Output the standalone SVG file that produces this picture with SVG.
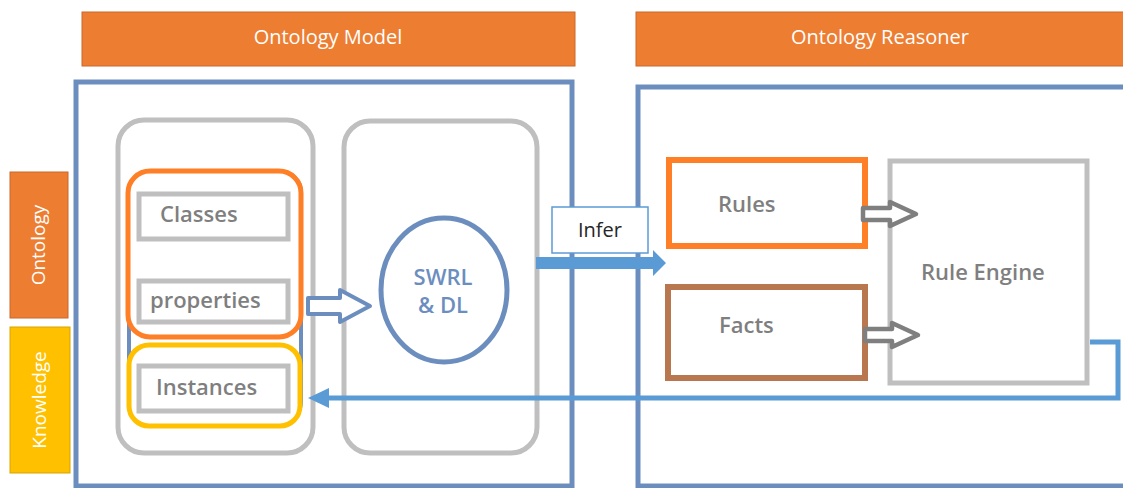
<svg xmlns="http://www.w3.org/2000/svg" width="1123" height="488" viewBox="0 0 1123 488">
<style>
.hdr{fill:#ED7D31;stroke:#C9682A;stroke-width:1}
.htxt{font-family:"Open Sans",sans-serif;font-size:20px;fill:#ffffff;text-anchor:middle}
.frame{fill:#ffffff;stroke:#6C8EBF;stroke-width:5}
.gray{fill:none;stroke:#BFBFBF;stroke-width:5}
.lbl{font-family:"Open Sans",sans-serif;font-weight:600;font-size:22px;fill:#7F7F7F}
.side{font-family:"Open Sans",sans-serif;font-size:19px;fill:#ffffff;text-anchor:middle}
</style>
<g id="header-model"><rect class="hdr" x="82" y="12" width="493" height="54"/><text class="htxt" x="328" y="44">Ontology Model</text></g>
<g id="header-reasoner"><rect class="hdr" x="636" y="12" width="490" height="54"/><text class="htxt" x="880" y="44">Ontology Reasoner</text></g>
<g id="frame-model"><rect class="frame" x="76" y="82" width="496" height="404"/></g>
<g id="frame-reasoner"><rect class="frame" x="638" y="87" width="495" height="399"/></g>
<g id="ontology-tag"><rect x="10" y="172" width="58" height="146" fill="#ED7D31" stroke="#C9682A" stroke-width="1"/><text class="side" transform="translate(45 245) rotate(-90)">Ontology</text></g>
<g id="knowledge-tag"><rect x="10" y="327" width="60" height="146" fill="#FFC000" stroke="#D9A300" stroke-width="1"/><text class="side" transform="translate(46 400) rotate(-90)">Knowledge</text></g>
<g id="ontology-group"><rect class="gray" x="118" y="120" width="195" height="333" rx="26"/></g>
<g id="ontology-inner"><rect x="129" y="172" width="172" height="250" rx="20" fill="none" stroke="#6C8EBF" stroke-width="4"/></g>
<g id="ontology-orange"><rect x="128" y="171" width="173" height="166" rx="22" fill="#ffffff" stroke="#FF7F27" stroke-width="5"/></g>
<g id="knowledge-yellow"><rect x="129" y="345" width="171" height="81" rx="20" fill="#ffffff" stroke="#FFC000" stroke-width="5"/></g>
<g id="classes"><rect class="gray" x="139" y="194" width="149" height="45"/><text class="lbl" x="160" y="222">Classes</text></g>
<g id="properties"><rect class="gray" x="139" y="281" width="149" height="41"/><text class="lbl" x="150" y="308">properties</text></g>
<g id="instances"><rect class="gray" x="139" y="366" width="149" height="45"/><text class="lbl" x="156" y="395">Instances</text></g>
<g id="reasoning-group"><rect class="gray" x="344" y="121" width="193" height="332" rx="26"/></g>
<g id="swrl"><ellipse cx="444" cy="290" rx="63" ry="72" fill="#ffffff" stroke="#6C8EBF" stroke-width="5"/><text font-family="Open Sans,sans-serif" font-weight="600" font-size="22" fill="#6C8EBF" text-anchor="middle"><tspan x="443" y="285">SWRL</tspan><tspan x="443" y="313">&amp; DL</tspan></text></g>
<g id="rules"><rect x="669" y="160" width="196" height="86" fill="#ffffff" stroke="#FF7F27" stroke-width="6"/><text class="lbl" x="718" y="212">Rules</text></g>
<g id="facts"><rect x="668" y="287" width="197" height="91" fill="#ffffff" stroke="#B97750" stroke-width="6"/><text class="lbl" x="719" y="333">Facts</text></g>
<g id="rule-engine"><rect class="gray" x="890" y="161" width="197" height="222" fill="#ffffff"/><text class="lbl" x="921" y="280">Rule Engine</text></g>
<g id="connectors">
<path d="M308 298 H340 V290 L370 306 L340 322 V314 H308 Z" fill="#ffffff" stroke="#6C8EBF" stroke-width="4" stroke-linejoin="round"/>
<path d="M536 257 H653 V250 L666 263 L653 276 V269 H536 Z" fill="#5B9BD5"/>
<path d="M1090 342 H1118 V398 H326" fill="none" stroke="#5B9BD5" stroke-width="5"/>
<path d="M308 398 L329 388 V408 Z" fill="#5B9BD5"/>
<path d="M863 208 H890 V202 L916 214 L890 226 V220 H863 Z" fill="#ffffff" stroke="#7F7F7F" stroke-width="4.5" stroke-linejoin="round"/>
<path d="M865 329 H892 V323 L918 335 L892 347 V341 H865 Z" fill="#ffffff" stroke="#7F7F7F" stroke-width="4.5" stroke-linejoin="round"/>
</g>
<g id="infer"><rect x="552" y="207" width="96" height="46" fill="#ffffff" stroke="#5B9BD5" stroke-width="1.5"/><text x="600" y="237" font-family="Open Sans,sans-serif" font-size="20" fill="#262626" text-anchor="middle">Infer</text></g>
</svg>
